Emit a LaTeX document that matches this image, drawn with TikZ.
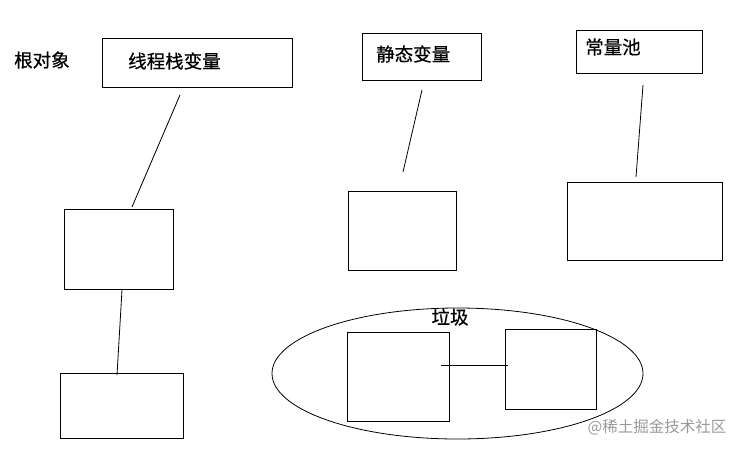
\documentclass[tikz,border=0pt]{standalone}
\usepackage{fontspec}
\setmainfont{Liberation Sans}
\newfontfamily\cjk{Noto Sans CJK SC}
\newfontfamily\cjkb[FakeBold=0.6]{Noto Sans CJK SC}
\usetikzlibrary{shapes.geometric}
\tikzset{
  box/.style={draw, line width=0.9pt, inner sep=0pt},
  lbl/.style={font=\cjkb\fontsize{18.5}{20}\selectfont, inner sep=0pt, anchor=west},
  conn/.style={line width=0.8pt},
}
\begin{document}
\begin{tikzpicture}[x=1pt,y=-1pt]
\useasboundingbox (0,0) rectangle (741,450);
% top labels
\node[lbl] (root) at (14,60) {根对象};
\draw[box] (102,38) rectangle (292,87);
\node[lbl] (thread) at (128,61) {线程栈变量};
\draw[box] (362,33) rectangle (481,80);
\node[lbl] (static) at (376,54) {静态变量};
\draw[box] (576,30) rectangle (702,73);
\node[lbl] (const) at (585,47) {常量池};
% object boxes
\node[box, minimum width=109pt, minimum height=80pt] (o1) at (118.5,249) {};
\node[box, minimum width=123pt, minimum height=65pt] (o2) at (121.5,405.5) {};
\node[box, minimum width=108pt, minimum height=79pt] (o3) at (402,230.5) {};
\node[box, minimum width=155pt, minimum height=78pt] (o4) at (644.5,221) {};
% garbage
\node[draw, ellipse, line width=0.8pt, minimum width=371pt, minimum height=131pt, inner sep=0pt] (gc) at (457.5,373.5) {};
\node[lbl, anchor=center] (gclbl) at (450,317) {垃圾};
\node[box, minimum width=102pt, minimum height=89pt] (g1) at (398,376.5) {};
\node[box, minimum width=91pt, minimum height=80pt] (g2) at (550.5,369) {};
% connector ends
\coordinate (a1) at (180,95);
\coordinate (a2) at (132,207);
\coordinate (b1) at (122,290);
\coordinate (b2) at (117,375);
\coordinate (c1) at (422,90);
\coordinate (c2) at (403,172);
\coordinate (d1) at (643,85);
\coordinate (d2) at (636,177);
\coordinate (e1) at (441,365);
\coordinate (e2) at (508,365);
\draw[conn] (a1) -- (a2);
\draw[conn] (b1) -- (b2);
\draw[conn] (c1) -- (c2);
\draw[conn] (d1) -- (d2);
\draw[conn] (e1) -- (e2);
% watermark
\node[font=\cjk\fontsize{15.5}{17}\selectfont, text=black!40, inner sep=0pt] (wm) at (657,427) {@稀土掘金技术社区};
\end{tikzpicture}
\end{document}
